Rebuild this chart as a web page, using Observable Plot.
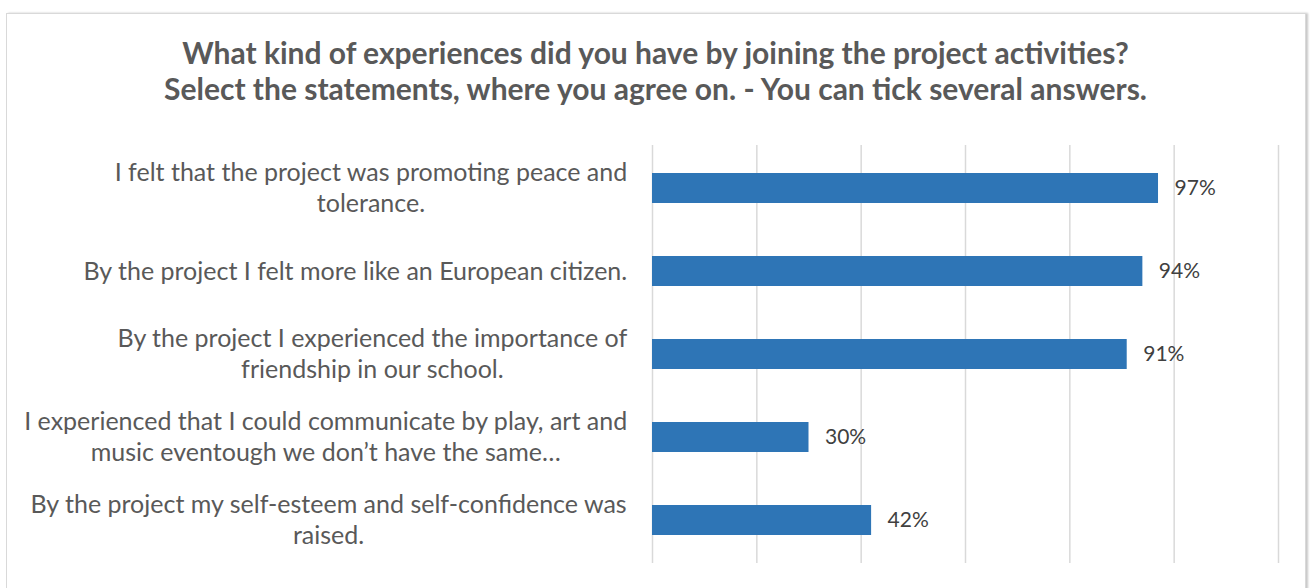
<!DOCTYPE html>
<html><head><meta charset="utf-8">
<script src="https://cdn.jsdelivr.net/npm/d3@7"></script>
<script src="https://cdn.jsdelivr.net/npm/@observablehq/plot@0.6"></script>
<style>
body{margin:0;width:1311px;height:588px;overflow:hidden;background:#fff;font-family:Lato,sans-serif;}
#frame{position:absolute;left:6px;top:13px;width:1298px;height:600px;border:1px solid #d9d9d9;box-shadow:2px 0 2px #c8c8c8;}
#title{position:absolute;left:0;top:34px;width:1311px;text-align:center;font-weight:bold;font-size:30px;line-height:36px;color:#595959;}
#chart{position:absolute;left:0;top:130px;}
</style></head><body>
<div id="frame"></div>
<div id="title">What kind of experiences did you have by joining the project activities?<br>Select the statements, where you agree on. - You can tick several answers.</div>
<div id="chart"></div>
<script>
const statements = [
  "I felt that the project was promoting peace and\ntolerance.",
  "By the project I felt more like an European citizen.",
  "By the project I experienced the importance of\nfriendship in our school.",
  "I experienced that I could communicate by play, art and\nmusic eventough we don\u2019t have the same\u2026",
  "By the project my self-esteem and self-confidence was\nraised."
];
const shares = [0.97, 0.94, 0.91, 0.30, 0.42];
const xTicks = [0, 0.2, 0.4, 0.6, 0.8, 1.0, 1.2];

const data = statements.map((s, i) => ({statement: s, share: shares[i]}));
const labelSize = 25;
const ctx = document.createElement("canvas").getContext("2d");
ctx.font = `${labelSize}px Lato`;
const halfWidth = s => d3.max(s.split("\n"), l => ctx.measureText(l).width) / 2;
const labelGap = 25;

const plot = Plot.plot({
  width: 1311, height: 458,
  marginLeft: 652, marginRight: 33, marginTop: 15, marginBottom: 25,
  style: {fontFamily: "Lato, sans-serif", background: "transparent"},
  x: {domain: [0, 1.2], axis: null},
  y: {domain: statements, axis: null, paddingInner: 0.64, paddingOuter: 0.32},
  marks: [
    Plot.gridX(xTicks, {stroke: "#d9d9d9", strokeOpacity: 1, strokeWidth: 1.5}),
    Plot.barX(data, {x: "share", y: "statement", fill: "#2e75b6"}),
    Plot.text(data, {x: "share", y: "statement", text: d => d3.format(".0%")(d.share),
      textAnchor: "start", dx: 16, fontSize: 21, fill: "#404040"}),
    ...data.map(d => Plot.text([d], {x: 0, y: "statement", text: "statement",
      textAnchor: "middle", dx: -labelGap - halfWidth(d.statement), dy: -2, lineAnchor: "middle",
      lineHeight: 1.25, fontSize: labelSize, fill: "#595959"}))
  ]
});
document.getElementById("chart").append(plot);
</script>
</body></html>
